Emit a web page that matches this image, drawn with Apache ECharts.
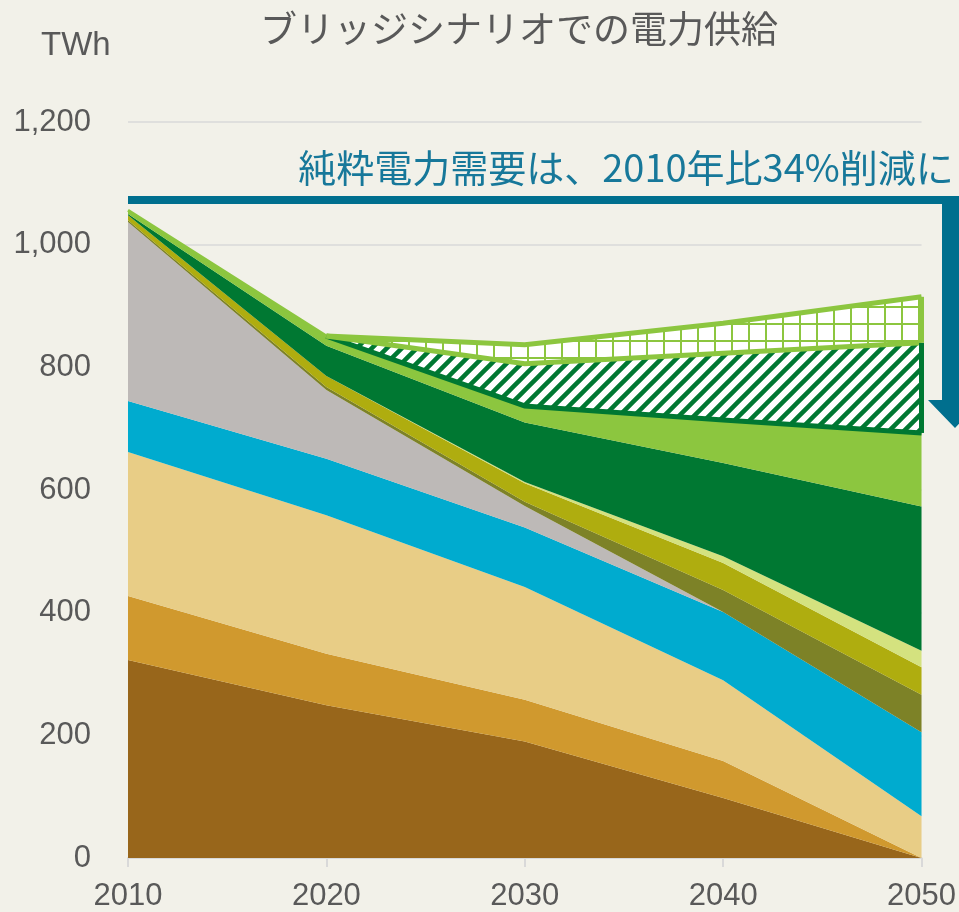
<!DOCTYPE html>
<html>
<head>
<meta charset="utf-8">
<script src="https://cdn.jsdelivr.net/npm/echarts@6/dist/echarts.min.js"></script>
<style>
html,body{margin:0;padding:0;background:#F2F1E9;}
#chart{width:959px;height:912px;}
</style>
</head>
<body>
<div id="chart"></div>
<script>
// ---- data (TWh per source, per year) ----
var years = ['2010', '2020', '2030', '2040', '2050'];
var yTickLabels = ['0', '200', '400', '600', '800', '1,000', '1,200'];
var coal        = [323, 249, 190,  98,   0];
var oil         = [104,  84,  68,  60,   0];
var lng         = [235, 226, 184, 132,  68];
var hydro       = [ 83,  92,  97, 111, 137];
var nuclear     = [292, 112,  35,   0,   0];
var geothermal  = [  3,   5,   7,  36,  61];
var biomass     = [  8,  18,  30,  44,  45];
var other       = [  0,   0,   2,  11,  27];
var wind        = [  2,  49,  97, 152, 235];
var solar       = [  6,  16,  27,  70, 120];
var efficiency  = [null, 0,  69, 109, 147];
var electrify   = [null, 0,  31,  49,  75];
var zeroFrom2020 = [null, 0, 0, 0, 0];

var titleText = 'ブリッジシナリオでの電力供給';
var unitText = 'TWh';
var noteText = '純粋電力需要は、2010年比34%削減に';

// ---- patterns ----
function hatchPattern() {
  var s = 15, c = document.createElement('canvas');
  c.width = s; c.height = s;
  var g = c.getContext('2d');
  g.fillStyle = '#ffffff'; g.fillRect(0, 0, s, s);
  g.strokeStyle = '#007832'; g.lineWidth = 4.5;
  g.beginPath();
  g.moveTo(-s, s); g.lineTo(s, -s);
  g.moveTo(0, s); g.lineTo(s, 0);
  g.moveTo(0, 2 * s); g.lineTo(2 * s, 0);
  g.stroke();
  return c;
}
function gridPattern() {
  var s = 17, c = document.createElement('canvas');
  c.width = s; c.height = s;
  var g = c.getContext('2d');
  g.fillStyle = '#ffffff'; g.fillRect(0, 0, s, s);
  g.fillStyle = '#8CC63F';
  g.fillRect(0, 0, s, 2);
  g.fillRect(0, 0, 2, s);
  return c;
}

var FONT_NUM = '"Liberation Sans", Arial, sans-serif';
var FONT_CJK = '"Noto Sans CJK JP", "Noto Sans", sans-serif';

function layer(name, data, color, lineW, lineC) {
  return {
    name: name, type: 'line', stack: 'total', data: data,
    symbol: 'none', showSymbol: false, smooth: false,
    lineStyle: { width: lineW || 0, color: lineC || color },
    areaStyle: { color: color, opacity: 1 },
    itemStyle: { color: color },
    silent: true, z: 2
  };
}
function borderLine(name, data, color, w) {
  return {
    name: name, type: 'line', stack: 'total', data: data,
    symbol: 'none', showSymbol: false, clip: false,
    lineStyle: { width: w, color: color, join: 'miter' },
    silent: true, z: 3
  };
}

function sumAt(arrs, i) {
  var s = 0;
  arrs.forEach(function (a) { s += (a[i] || 0); });
  return s;
}
var last = years.length - 1;
var baseStack = [coal, oil, lng, hydro, nuclear, geothermal, biomass, other, wind, solar];
var effBottom = sumAt(baseStack, last);
var effTop = effBottom + efficiency[last];
var elecTop = effTop + electrify[last];

var chart = echarts.init(document.getElementById('chart'), null, { renderer: 'canvas' });

var option = {
  backgroundColor: '#F2F1E9',
  animation: false,
  title: [
    { text: titleText, left: 255, top: 5,
      textStyle: { fontFamily: FONT_CJK, fontSize: 37, fontWeight: 'normal', color: '#595959' } },
    { text: unitText, left: 36, top: 24,
      textStyle: { fontFamily: FONT_NUM, fontSize: 33, fontWeight: 'normal', color: '#595959' } }
  ],
  grid: { left: 128, right: 36, top: 122, bottom: 54, containLabel: false },
  xAxis: {
    type: 'category', data: years, boundaryGap: false,
    axisLine: { show: true, lineStyle: { color: '#D9D9D9', width: 2 } },
    axisTick: { show: true, length: 9, lineStyle: { color: '#D9D9D9', width: 2 } },
    axisLabel: { color: '#595959', fontSize: 31, fontFamily: FONT_NUM, margin: 23 },
    splitLine: { show: false }
  },
  yAxis: {
    type: 'value', min: 0, max: 1200, interval: 200,
    axisLine: { show: false }, axisTick: { show: false },
    axisLabel: {
      color: '#595959', fontSize: 31, fontFamily: FONT_NUM, margin: 37,
      formatter: function (v) { return yTickLabels[Math.round(v / 200)]; }
    },
    splitLine: { show: true, lineStyle: { color: '#D9D9D9', width: 1.5 } }
  },
  series: [
    layer('石炭', coal, '#98661B'),
    layer('石油', oil, '#D0992E'),
    layer('LNG', lng, '#E8CD86'),
    layer('水力', hydro, '#00ABCF'),
    layer('原子力', nuclear, '#BDB9B7'),
    layer('地熱', geothermal, '#7D8227'),
    layer('バイオマス', biomass, '#AFAD0F'),
    layer('その他', other, '#D4E27F'),
    layer('風力', wind, '#007832'),
    layer('太陽光', solar, '#8CC63F', 3, '#8CC63F'),
    borderLine('省エネ下端', zeroFrom2020, '#007832', 5),
    {
      name: '省エネ', type: 'line', stack: 'total', data: efficiency,
      symbol: 'none', showSymbol: false,
      lineStyle: { width: 0 },
      areaStyle: { color: { image: hatchPattern(), repeat: 'repeat' }, opacity: 1 },
      silent: true, z: 2
    },
    borderLine('電化下端', zeroFrom2020, '#8CC63F', 5),
    {
      name: '電化', type: 'line', stack: 'total', data: electrify,
      symbol: 'none', showSymbol: false, clip: false,
      lineStyle: { width: 5, color: '#8CC63F', join: 'miter' },
      areaStyle: { color: { image: gridPattern(), repeat: 'repeat' }, opacity: 1 },
      silent: true, z: 3
    },
    {
      name: '右端', type: 'line', data: [null, null, null, null, null],
      symbol: 'none', clip: false, silent: true, z: 4,
      markLine: {
        silent: true, symbol: 'none', label: { show: false },
        animation: false,
        data: [
          [ { coord: [years[last], effBottom], lineStyle: { color: '#007832', width: 5, type: 'solid' } },
            { coord: [years[last], effTop] } ],
          [ { coord: [years[last], effTop], lineStyle: { color: '#8CC63F', width: 5, type: 'solid' } },
            { coord: [years[last], elecTop] } ]
        ]
      }
    }
  ],
  graphic: [
    {
      type: 'polygon', silent: true, z: 10,
      shape: { points: [[128,196],[968,196],[968,400],[982,400],[955,428],[928,400],[942,400],[942,204],[128,204]] },
      style: { fill: '#006F8E' }
    },
    {
      type: 'text', silent: true, z: 10, x: 626, y: 168,
      style: { text: noteText, fill: '#17789A', fontFamily: FONT_CJK, fontSize: 38,
               textAlign: 'center', textVerticalAlign: 'middle' }
    }
  ]
};
chart.setOption(option);
</script>
</body>
</html>
